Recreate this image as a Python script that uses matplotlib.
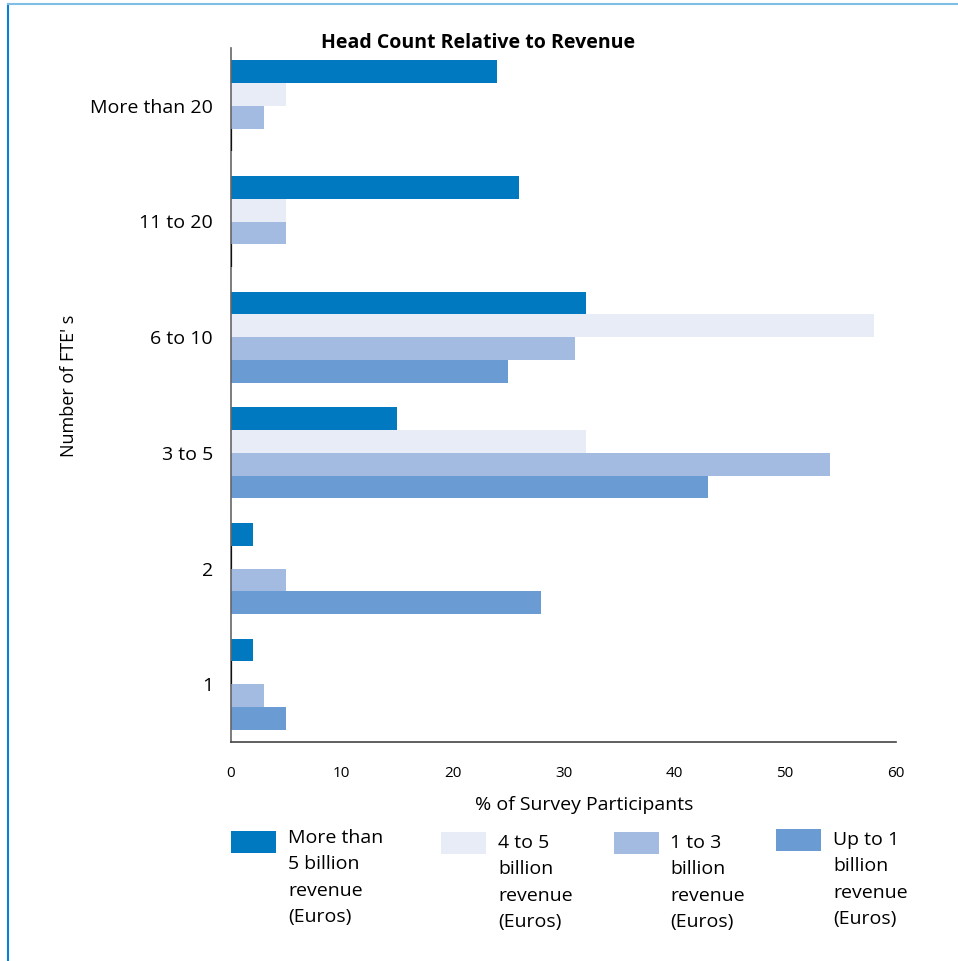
import numpy as np
import matplotlib.pyplot as plt
from matplotlib.patches import Rectangle
from matplotlib.lines import Line2D

plt.rcParams['font.family'] = ['Open Sans', 'DejaVu Sans']

# categories top to bottom
categories = ["More than 20", "11 to 20", "6 to 10", "3 to 5", "2", "1"]
series_names = ["More than\n5 billion\nrevenue\n(Euros)",
                "4 to 5\nbillion\nrevenue\n(Euros)",
                "1 to 3\nbillion\nrevenue\n(Euros)",
                "Up to 1\nbillion\nrevenue\n(Euros)"]
over5 = [24, 26, 32, 15, 2, 2]
four_to5 = [5, 5, 58, 32, 0, 0]
one_to3 = [3, 5, 31, 54, 5, 3]
up_to1 = [0, 0, 25, 43, 28, 5]
colors = ["#0079c1", "#e8ecf6", "#a3bbe0", "#6a9bd2"]
xticks = [0, 10, 20, 30, 40, 50, 60]

fig = plt.figure(figsize=(9.58, 9.61), dpi=100)
ax = fig.add_axes([231/958, 1-742/961, (896-231)/958, (742-48)/961])

y = np.arange(len(categories))
h = 0.197
allseries = [over5, four_to5, one_to3, up_to1]
for k, vals in enumerate(allseries):
    pos = y + (k - 1.5) * h
    vals = np.array(vals)
    ax.barh(pos, vals, height=h, color=colors[k], linewidth=0)
    # zero values show a thin dark stub on the axis
    zero = vals == 0
    if zero.any():
        ax.vlines(vals[zero], pos[zero] - h/2, pos[zero] + h/2, color="#111111", lw=1.6, zorder=3)

ax.set_ylim(5.5, -0.5)
ax.set_xlim(0, 60)
ax.set_yticks(y)
ax.set_yticklabels(categories, fontsize=14)
ax.set_xticks(xticks)
ax.set_xticklabels([str(t) for t in xticks], fontsize=11)
ax.tick_params(axis='y', length=0, pad=13)
ax.tick_params(axis='x', length=0, pad=17)
for s in ['top', 'right']:
    ax.spines[s].set_visible(False)
ax.spines['left'].set_color("#666666")
ax.spines['bottom'].set_color("#444444")
ax.spines['left'].set_linewidth(1.2)
ax.spines['bottom'].set_linewidth(1.2)

fig.text(478/958, 1-43/961, "Head Count Relative to Revenue", ha='center', va='center',
         fontsize=14, fontweight='bold')
fig.text(584/958, 1-805/961, "% of Survey Participants", ha='center', va='center', fontsize=14)
fig.text(69/958, 1-386/961, "Number of FTE' s", ha='center', va='center', rotation=90, fontsize=13)

# legend drawn by hand
leg_x = [231, 441, 614, 776]
leg_top = [831, 832, 832, 829]
text_top = [829, 834, 834, 831]
text_x = [288, 498, 670, 833]
for k in range(4):
    fig.add_artist(Rectangle((leg_x[k]/958, 1-(leg_top[k]+22)/961), 45/958, 22/961,
                             transform=fig.transFigure, color=colors[k], lw=0))
    fig.text(text_x[k]/958, 1-text_top[k]/961, series_names[k], ha='left', va='top',
             fontsize=14, linespacing=1.6)

# page border
fig.add_artist(Line2D([8/958, 8/958], [0, 1-4/961], transform=fig.transFigure, color="#0a7fd4", lw=1.5))
fig.add_artist(Line2D([8/958, 1], [1-4/961, 1-4/961], transform=fig.transFigure, color="#7fbfe6", lw=1.5))

fig.savefig("out.png", dpi=100)
